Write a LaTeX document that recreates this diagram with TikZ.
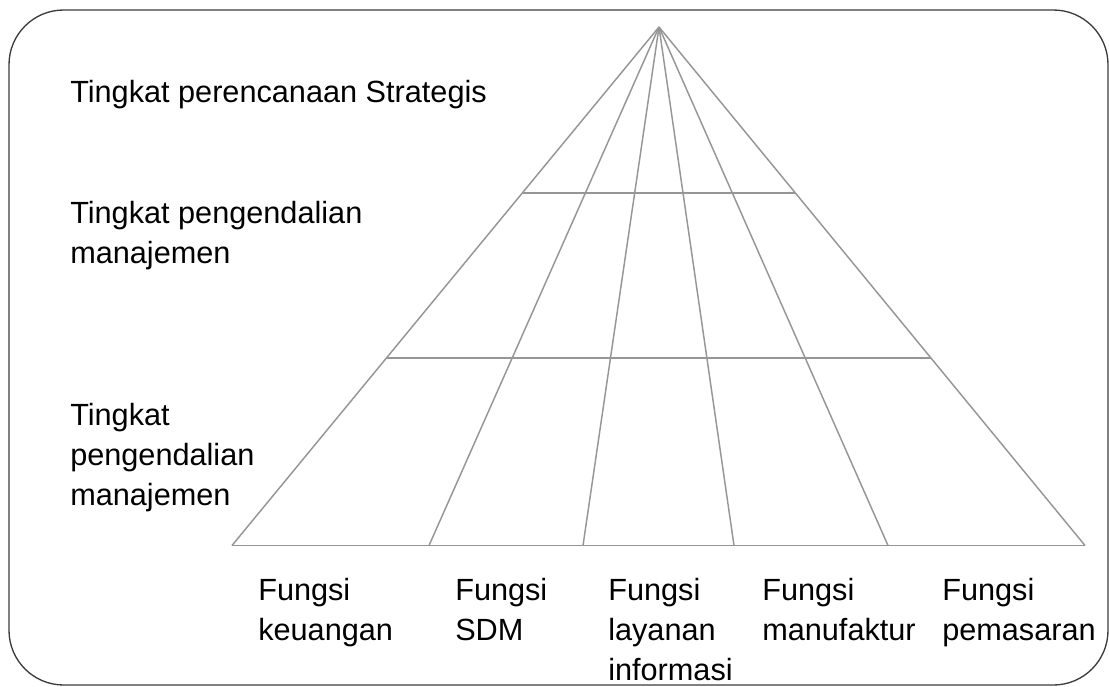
\documentclass[tikz,border=0pt]{standalone}
\usepackage{fontspec}
\setmainfont{Liberation Sans}
\usetikzlibrary{calc}
\begin{document}
\begin{tikzpicture}[x=0.75pt,y=0.75pt,yscale=-1,
  pyr/.style={draw={rgb, 255:red, 150; green, 150; blue, 150}, line width=1.1pt},
  lbl/.style={anchor=base west, inner sep=0pt, align=left, font=\fontsize{23}{30}\selectfont}]
\useasboundingbox (0,0) rectangle (1109,686);

%Rounded Rect
\draw [color={rgb, 255:red, 60; green, 60; blue, 60 }, line width=1pt, rounded corners=41pt] (9,10) rectangle (1108,685) ;

%Apex and base points
\coordinate (top) at (659,27);
\coordinate (b0) at (232,545.5);
\coordinate (b1) at (429,545.5);
\coordinate (b2) at (583,545.5);
\coordinate (b3) at (734,545.5);
\coordinate (b4) at (888,545.5);
\coordinate (b5) at (1085,545.5);

%Straight Lines
\draw [pyr] (top) -- (b0) ;
%Straight Lines
\draw [pyr] (top) -- (b1) ;
%Straight Lines
\draw [pyr] (top) -- (b2) ;
%Straight Lines
\draw [pyr] (top) -- (b3) ;
%Straight Lines
\draw [pyr] (top) -- (b4) ;
%Straight Lines
\draw [pyr] (top) -- (b5) ;
%Straight Lines
\draw [pyr] (b0) -- (b5) ;
%Straight Lines
\draw [pyr] ($(top)!0.3202!(b0)$) -- ($(top)!0.3202!(b5)$) ;
%Straight Lines
\draw [pyr] ($(top)!0.6384!(b0)$) -- ($(top)!0.6384!(b5)$) ;

% Text Node (base = last line)
\draw (70,102) node [lbl] (strat) {Tingkat perencanaan Strategis};
% Text Node
\draw (70,263) node [lbl] (ctrlA) {Tingkat pengendalian\\manajemen};
% Text Node
\draw (70,505) node [lbl] (ctrlB) {Tingkat\\pengendalian\\manajemen};
% Text Node
\draw (258,640) node [lbl] (keu) {Fungsi\\keuangan};
% Text Node
\draw (455,640) node [lbl] (sdm) {Fungsi\\SDM};
% Text Node
\draw (608,680) node [lbl] (lay) {Fungsi\\layanan\\informasi};
% Text Node
\draw (762,640) node [lbl] (manu) {Fungsi\\manufaktur};
% Text Node
\draw (942,640) node [lbl] (pem) {Fungsi\\pemasaran};

\end{tikzpicture}
\end{document}
